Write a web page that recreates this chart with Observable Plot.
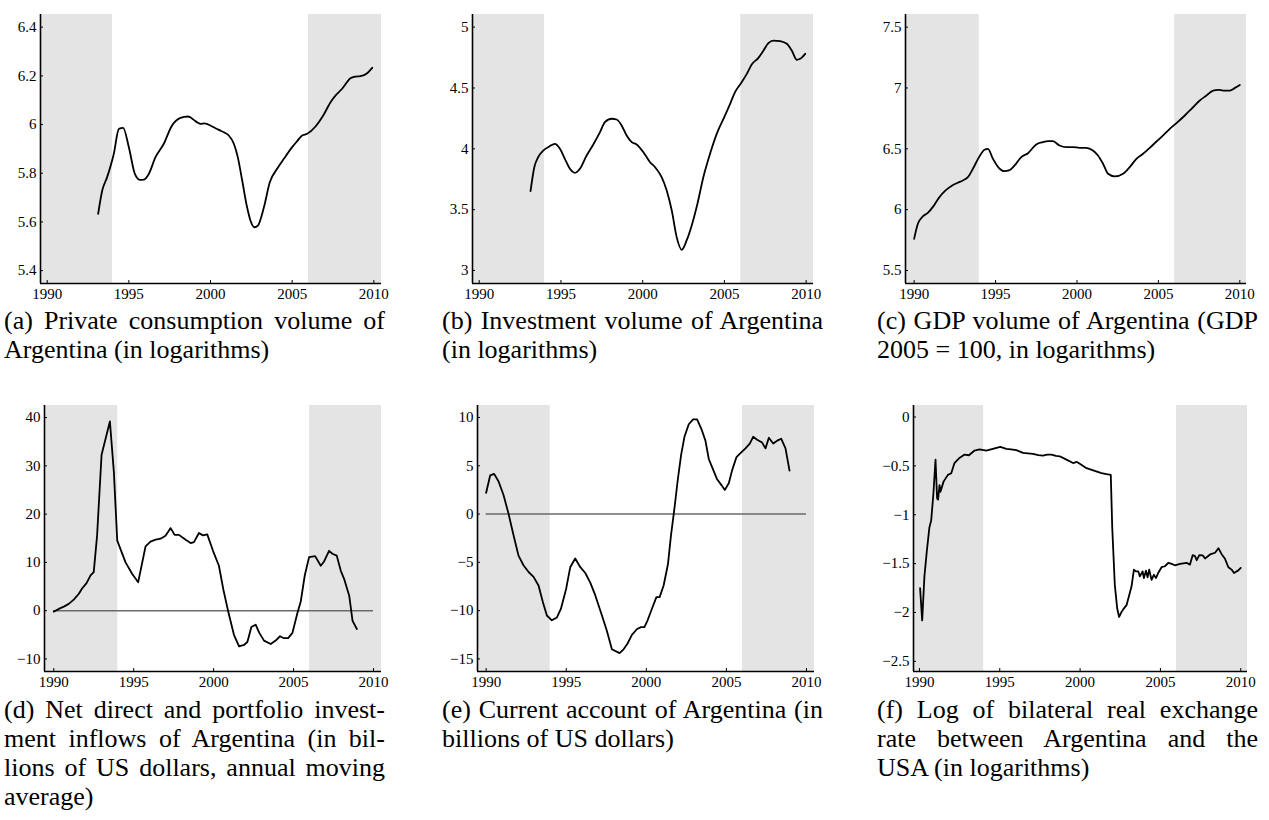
<!DOCTYPE html>
<html><head><meta charset="utf-8">
<script src="https://cdn.jsdelivr.net/npm/d3@7"></script>
<script src="https://cdn.jsdelivr.net/npm/@observablehq/plot@0.6"></script>
<style>
body{margin:0;background:#fff;}
#fig{position:relative;width:1269px;height:820px;overflow:hidden;background:#fff;font-family:"Liberation Serif","Times New Roman",Times,serif;}
.panel{position:absolute;}
.panel svg, .panel svg text{font-family:"Liberation Serif","Times New Roman",Times,serif !important;}
.cap{position:absolute;width:381px;font-size:26px;line-height:29px;text-align:justify;color:#000;hyphens:manual;}
</style></head><body><div id="fig"></div>
<script>
// ---------- data (year, value) ----------
const consumption = [[1993.12,5.633],[1993.37,5.729],[1993.67,5.784],[1994.08,5.88],[1994.39,5.982],[1994.65,5.986],[1995.0,5.907],[1995.37,5.797],[1995.67,5.773],[1995.92,5.774],[1996.22,5.797],[1996.63,5.866],[1997.14,5.921],[1997.61,5.992],[1998.16,6.027],[1998.63,6.033],[1999.08,6.014],[1999.39,6.003],[1999.63,6.005],[2000.1,5.992],[2000.51,5.978],[2000.82,5.968],[2001.12,5.955],[2001.43,5.921],[2001.67,5.866],[2001.94,5.770],[2002.24,5.660],[2002.45,5.605],[2002.69,5.578],[2002.9,5.585],[2003.27,5.660],[2003.63,5.763],[2004.08,5.818],[2004.49,5.859],[2005.0,5.907],[2005.31,5.932],[2005.61,5.955],[2005.92,5.962],[2006.43,5.992],[2006.9,6.037],[2007.35,6.092],[2007.65,6.119],[2008.06,6.147],[2008.57,6.190],[2008.88,6.197],[2009.18,6.199],[2009.59,6.211],[2009.9,6.233]];

const investment = [[1993.14,3.652],[1993.37,3.849],[1993.61,3.932],[1993.92,3.986],[1994.29,4.019],[1994.63,4.041],[1994.94,4.0],[1995.24,3.918],[1995.55,3.836],[1995.86,3.803],[1996.16,3.836],[1996.57,3.945],[1996.98,4.036],[1997.39,4.137],[1997.69,4.219],[1998.1,4.247],[1998.41,4.241],[1998.71,4.192],[1999.02,4.110],[1999.33,4.055],[1999.63,4.036],[2000.04,3.973],[2000.45,3.890],[2000.76,3.849],[2001.16,3.767],[2001.47,3.658],[2001.78,3.493],[2002.08,3.274],[2002.39,3.170],[2002.69,3.247],[2003.0,3.370],[2003.35,3.548],[2003.71,3.767],[2004.12,3.959],[2004.53,4.123],[2005.04,4.274],[2005.35,4.370],[2005.65,4.466],[2006.06,4.548],[2006.37,4.616],[2006.67,4.693],[2007.08,4.748],[2007.39,4.808],[2007.69,4.868],[2008.0,4.890],[2008.41,4.885],[2008.82,4.863],[2009.12,4.808],[2009.43,4.732],[2009.63,4.740],[2009.94,4.781]];

const gdp = [[1990.0,5.760],[1990.23,5.884],[1990.53,5.944],[1990.84,5.974],[1991.19,6.029],[1991.52,6.097],[1991.93,6.158],[1992.34,6.199],[1992.68,6.221],[1992.99,6.240],[1993.3,6.267],[1993.61,6.336],[1994.02,6.440],[1994.32,6.492],[1994.53,6.5],[1994.84,6.418],[1995.25,6.336],[1995.55,6.316],[1995.82,6.322],[1996.17,6.363],[1996.58,6.432],[1996.99,6.464],[1997.5,6.536],[1997.91,6.555],[1998.22,6.563],[1998.52,6.563],[1998.93,6.527],[1999.34,6.514],[1999.75,6.514],[2000.16,6.508],[2000.57,6.508],[2000.98,6.486],[2001.29,6.445],[2001.6,6.377],[2001.91,6.295],[2002.32,6.273],[2002.83,6.295],[2003.24,6.350],[2003.65,6.418],[2004.06,6.459],[2004.47,6.508],[2004.88,6.560],[2005.29,6.610],[2005.7,6.664],[2006.11,6.711],[2006.62,6.774],[2007.03,6.829],[2007.54,6.897],[2007.95,6.938],[2008.36,6.979],[2008.67,6.985],[2008.98,6.979],[2009.39,6.979],[2009.7,7.001],[2010.0,7.025]];

const inflows = [[1990.0,-0.2],[1990.31,0.36],[1990.63,0.84],[1990.94,1.4],[1991.25,2.3],[1991.57,3.5],[1991.77,4.6],[1992.05,5.7],[1992.3,7.3],[1992.5,8.0],[1992.71,15.6],[1992.99,32.3],[1993.51,39.2],[1993.76,28.7],[1993.97,14.5],[1994.49,10.0],[1994.91,7.6],[1995.28,5.9],[1995.74,13.3],[1996.05,14.3],[1996.37,14.7],[1996.68,14.9],[1996.99,15.5],[1997.31,17.1],[1997.56,15.7],[1997.83,15.7],[1998.25,14.7],[1998.56,14.0],[1998.77,14.2],[1999.08,16.1],[1999.33,15.6],[1999.6,15.8],[1999.96,12.4],[2000.33,9.3],[2000.6,4.5],[2000.9,0.0],[2001.27,-5.0],[2001.59,-7.4],[2001.9,-7.1],[2002.11,-6.5],[2002.36,-3.4],[2002.63,-2.9],[2002.84,-4.5],[2003.15,-6.2],[2003.57,-6.9],[2003.88,-6.2],[2004.15,-5.3],[2004.4,-5.7],[2004.66,-5.7],[2004.93,-4.6],[2005.24,-0.5],[2005.45,1.9],[2005.7,7.3],[2005.97,11.1],[2006.35,11.3],[2006.7,9.3],[2006.91,10.2],[2007.22,12.4],[2007.43,11.8],[2007.7,11.4],[2007.95,8.3],[2008.16,6.6],[2008.48,3.1],[2008.69,-2.1],[2008.96,-3.8]];

const currentAccount = [[1990.0,2.2],[1990.25,4.0],[1990.5,4.16],[1990.77,3.4],[1991.08,2.0],[1991.4,0.02],[1991.71,-2.2],[1992.02,-4.3],[1992.33,-5.3],[1992.65,-6.0],[1992.96,-6.5],[1993.27,-7.4],[1993.54,-9.1],[1993.79,-10.5],[1994.1,-11.0],[1994.42,-10.7],[1994.67,-9.8],[1995.0,-7.7],[1995.25,-5.5],[1995.56,-4.6],[1995.88,-5.5],[1996.19,-6.1],[1996.5,-7.1],[1996.81,-8.4],[1997.23,-10.5],[1997.54,-12.1],[1997.85,-14.0],[1998.33,-14.4],[1998.58,-14.0],[1998.83,-13.4],[1999.1,-12.5],[1999.42,-11.9],[1999.67,-11.7],[1999.88,-11.7],[2000.08,-11.0],[2000.35,-9.8],[2000.63,-8.6],[2000.83,-8.6],[2001.08,-7.4],[2001.35,-5.2],[2001.54,-2.2],[2001.75,0.5],[2001.96,3.5],[2002.17,6.1],[2002.38,8.0],[2002.65,9.3],[2002.92,9.8],[2003.17,9.8],[2003.44,8.8],[2003.69,7.6],[2003.9,5.7],[2004.17,4.6],[2004.42,3.6],[2004.69,3.0],[2004.9,2.5],[2005.15,3.2],[2005.35,4.5],[2005.63,5.9],[2005.88,6.3],[2006.19,6.8],[2006.46,7.3],[2006.67,8.0],[2006.92,7.7],[2007.23,7.4],[2007.44,6.8],[2007.65,7.9],[2007.92,7.3],[2008.17,7.6],[2008.42,7.8],[2008.69,6.8],[2008.94,4.5]];

const realExchangeRate = [[1990.04,-1.752],[1990.17,-2.081],[1990.31,-1.631],[1990.46,-1.371],[1990.62,-1.129],[1990.73,-1.06],[1990.87,-0.783],[1991.0,-0.436],[1991.1,-0.834],[1991.16,-0.845],[1991.25,-0.696],[1991.31,-0.765],[1991.5,-0.661],[1991.77,-0.592],[1991.98,-0.575],[1992.18,-0.471],[1992.49,-0.419],[1992.81,-0.384],[1993.08,-0.391],[1993.43,-0.343],[1993.74,-0.332],[1994.16,-0.343],[1994.57,-0.325],[1995.03,-0.305],[1995.41,-0.325],[1995.7,-0.33],[1996.03,-0.339],[1996.45,-0.367],[1996.75,-0.372],[1997.07,-0.377],[1997.4,-0.39],[1997.69,-0.395],[1997.95,-0.385],[1998.21,-0.384],[1998.5,-0.397],[1998.73,-0.402],[1999.15,-0.436],[1999.56,-0.471],[1999.8,-0.46],[1999.98,-0.478],[2000.4,-0.523],[2000.91,-0.551],[2001.33,-0.575],[2001.64,-0.585],[2001.91,-0.592],[2002.0,-1.129],[2002.16,-1.717],[2002.31,-1.96],[2002.43,-2.046],[2002.58,-1.994],[2002.72,-1.96],[2002.89,-1.925],[2003.06,-1.821],[2003.2,-1.735],[2003.35,-1.562],[2003.47,-1.579],[2003.62,-1.579],[2003.72,-1.631],[2003.89,-1.579],[2003.97,-1.648],[2004.1,-1.572],[2004.2,-1.641],[2004.3,-1.562],[2004.45,-1.666],[2004.59,-1.614],[2004.72,-1.648],[2004.86,-1.596],[2005.07,-1.537],[2005.28,-1.527],[2005.49,-1.492],[2005.7,-1.503],[2005.9,-1.517],[2006.22,-1.503],[2006.63,-1.492],[2006.84,-1.510],[2007.01,-1.413],[2007.15,-1.423],[2007.26,-1.465],[2007.42,-1.413],[2007.63,-1.416],[2007.78,-1.447],[2008.09,-1.406],[2008.4,-1.389],[2008.61,-1.343],[2008.82,-1.406],[2009.02,-1.451],[2009.23,-1.537],[2009.44,-1.562],[2009.58,-1.596],[2009.85,-1.569],[2010.0,-1.544]];

// shaded periods: from axis start to 1994, and from 2006 to axis end
const shadeBreaks = [1994, 2006];
const yearTicks = [1990, 1995, 2000, 2005, 2010];
const ticksA = [5.4, 5.6, 5.8, 6, 6.2, 6.4];
const ticksB = [3, 3.5, 4, 4.5, 5];
const ticksC = [5.5, 6, 6.5, 7, 7.5];
const ticksD = [-10, 0, 10, 20, 30, 40];
const ticksE = [-15, -10, -5, 0, 5, 10];
const ticksF = [-2.5, -2, -1.5, -1, -0.5, 0];

const captions = [
  "(a) Private consumption volume of Argentina (in logarithms)",
  "(b) Investment volume of Argentina (in logarithms)",
  "(c) GDP volume of Argentina (GDP 2005 = 100, in logarithms)",
  "(d) Net direct and portfolio invest\u00ADment inflows of Argentina (in bil\u00ADlions of US dollars, annual moving average)",
  "(e) Current account of Argentina (in billions of US dollars)",
  "(f) Log of bilateral real exchange rate between Argentina and the USA (in logarithms)"
];

// ---------- drawing ----------
const fmt = d => (d < 0 ? "\u2212" : "") + String(Math.abs(d));
const fig = document.getElementById("fig");

function panel(o) {
  const data = o.series.map(([x, y]) => ({x, y}));
  const shades = [{x1: o.xDomain[0], x2: shadeBreaks[0]}, {x1: shadeBreaks[1], x2: o.xDomain[1]}];
  const svg = Plot.plot({
    width: o.width, height: o.height,
    marginLeft: o.mL, marginRight: o.mR, marginTop: o.mT, marginBottom: o.mB,
    style: {fontFamily: '"Liberation Serif", "Times New Roman", Times, serif', fontSize: "15px", color: "#000", background: "transparent", overflow: "visible"},
    x: {domain: o.xDomain, label: null},
    y: {domain: o.yDomain, label: null},
    marks: [
      Plot.rect(shades, {x1: "x1", x2: "x2", fill: "#e4e4e4"}),
      o.zero ? Plot.ruleY([0], {x1: 1990, x2: 2010, stroke: "#6a6a6a", strokeWidth: 1.5}) : null,
      Plot.line(data, {x: "x", y: "y", stroke: "#000", strokeWidth: 1.8, curve: o.curve || "linear", strokeLinejoin: "round"}),
      Plot.axisX(yearTicks, {tickSize: 0, tickPadding: 5, tickFormat: d => String(d), fontSize: 15, fill: "#000", label: null}),
      Plot.axisX(yearTicks, {tickSize: -3, tickFormat: () => "", stroke: "#000", label: null}),
      Plot.axisY(o.yTicks, {tickSize: 0, tickPadding: 4, tickFormat: fmt, fontSize: 15, fill: "#000", label: null}),
      Plot.axisY(o.yTicks, {tickSize: -3, tickFormat: () => "", stroke: "#000", label: null}),
      Plot.ruleX([o.xDomain[0]], {stroke: "#000", strokeWidth: 1.6}),
      Plot.ruleY([o.yDomain[0]], {stroke: "#000", strokeWidth: 1.6})
    ]
  });
  const wrap = document.createElement("div");
  wrap.className = "panel";
  wrap.style.left = o.left + "px";
  wrap.style.top = o.top + "px";
  wrap.appendChild(svg);
  fig.appendChild(wrap);
}

const row1 = {top: 0, width: 423, height: 310, mT: 14, mB: 27};
const row2 = {top: 395, width: 423, height: 300, mT: 10, mB: 24};

panel({...row1, left: 0, mL: 40, mR: 42, xDomain: [1989.59, 2010.47], yDomain: [5.347, 6.452], yTicks: ticksA, series: consumption, curve: "monotone-x"});
panel({...row1, left: 423, mL: 49, mR: 33, xDomain: [1989.59, 2010.45], yDomain: [2.893, 5.104], yTicks: ticksB, series: investment, curve: "monotone-x"});
panel({...row1, left: 846, mL: 59, mR: 23, xDomain: [1989.47, 2010.41], yDomain: [5.393, 7.604], yTicks: ticksC, series: gdp, curve: "monotone-x"});
panel({...row2, left: 0, mL: 44, mR: 42, xDomain: [1989.42, 2010.5], yDomain: [-12.6, 42.5], yTicks: ticksD, series: inflows, zero: true});
panel({...row2, left: 423, mL: 54, mR: 32, xDomain: [1989.46, 2010.5], yDomain: [-16.3, 11.24], yTicks: ticksE, series: currentAccount, zero: true});
panel({...row2, left: 846, mL: 67, mR: 22, xDomain: [1989.63, 2010.42], yDomain: [-2.604, 0.118], yTicks: ticksF, series: realExchangeRate});

const capLeft = [4, 442, 877];
const capTop = [306, 695];
captions.forEach((t, i) => {
  const d = document.createElement("div");
  d.className = "cap";
  d.style.left = capLeft[i % 3] + "px";
  d.style.top = capTop[Math.floor(i / 3)] + "px";
  d.textContent = t;
  fig.appendChild(d);
});
</script></body></html>
